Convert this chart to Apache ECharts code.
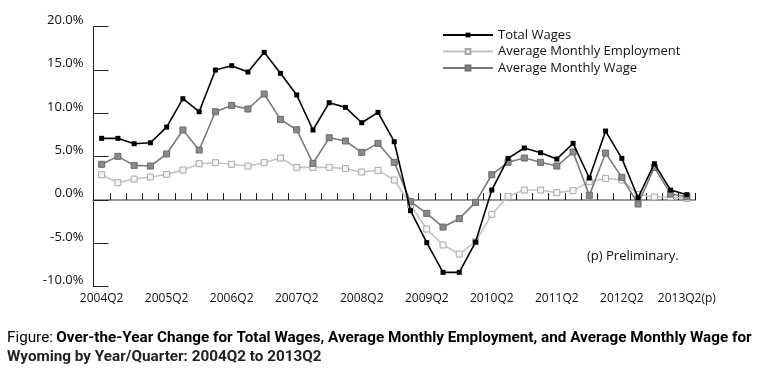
<!DOCTYPE html>
<html>
<head>
<meta charset="utf-8">
<script src="https://cdn.jsdelivr.net/npm/echarts@6/dist/echarts.min.js"></script>
<style>
html,body{margin:0;padding:0;background:#fff;}
#chart{width:771px;height:372px;}
</style>
</head>
<body>
<div id="chart"></div>
<script>
var quarters = ["2004Q2","2004Q3","2004Q4","2005Q1","2005Q2","2005Q3","2005Q4","2006Q1","2006Q2","2006Q3","2006Q4","2007Q1","2007Q2","2007Q3","2007Q4","2008Q1","2008Q2","2008Q3","2008Q4","2009Q1","2009Q2","2009Q3","2009Q4","2010Q1","2010Q2","2010Q3","2010Q4","2011Q1","2011Q2","2011Q3","2011Q4","2012Q1","2012Q2","2012Q3","2012Q4","2013Q1","2013Q2(p)"];
var totalWages = [7.12, 7.12, 6.50, 6.61, 8.42, 11.69, 10.19, 15.0, 15.5, 14.77, 17.04, 14.62, 12.12, 8.08, 11.23, 10.69, 8.92, 10.12, 6.73, -1.23, -4.92, -8.35, -8.35, -4.85, 1.15, 4.81, 6.0, 5.46, 4.73, 6.54, 2.54, 7.96, 4.81, 0.27, 4.19, 1.15, 0.62];
var avgEmployment = [2.92, 2.00, 2.42, 2.65, 2.96, 3.46, 4.19, 4.31, 4.12, 3.92, 4.31, 4.85, 3.77, 3.77, 3.77, 3.62, 3.23, 3.42, 2.31, -0.58, -3.35, -5.19, -6.23, -4.81, -1.65, 0.42, 1.15, 1.15, 0.85, 1.08, 2.12, 2.50, 2.31, 0.65, 0.35, 0.35, 0.19];
var avgWage = [4.12, 5.04, 4.00, 3.92, 5.31, 8.08, 5.77, 10.19, 10.92, 10.50, 12.23, 9.31, 8.11, 4.23, 7.19, 6.81, 5.50, 6.54, 4.35, -0.19, -1.54, -3.12, -2.15, -0.27, 2.92, 4.35, 4.85, 4.35, 3.92, 5.54, 0.54, 5.42, 2.62, -0.46, 3.77, 0.69, 0.38];
var seriesNames = ["Total Wages", "Average Monthly Employment", "Average Monthly Wage"];
var yTicks = [-10, -5, 0, 5, 10, 15, 20];
var captionLine1Label = "Figure:";
var captionLine1 = "Over-the-Year Change for Total Wages, Average Monthly Employment, and Average Monthly Wage for";
var captionLine2 = "Wyoming by Year/Quarter: 2004Q2 to 2013Q2";

var FONT = "'Open Sans', sans-serif";
var CAP_FONT_FAMILY = "Roboto, 'Open Sans', sans-serif";
var CAP_SIZE = 15;

// measure caption width to horizontally condense it like the original narrow font
var cv = document.createElement('canvas').getContext('2d');
cv.font = CAP_SIZE + "px " + CAP_FONT_FAMILY;
var wA = cv.measureText(captionLine1Label + ' ').width;
cv.font = "bold " + CAP_SIZE + "px " + CAP_FONT_FAMILY;
var wB = cv.measureText(captionLine1).width;
var capScale = 745 / (wA + wB);

var chart = echarts.init(document.getElementById('chart'), null, {renderer: 'canvas'});
var option = {
  animation: false,
  backgroundColor: '#fff',
  textStyle: {fontFamily: FONT},
  grid: {left: 93.5, right: 76, top: 26.7, bottom: 85.3, containLabel: false, outerBoundsMode: 'none'},
  legend: {
    left: 437, top: 23, orient: 'vertical',
    itemWidth: 50, itemHeight: 6, itemGap: 2.5,
    textStyle: {fontFamily: FONT, fontSize: 13, color: '#111', lineHeight: 14},
    data: seriesNames
  },
  xAxis: {
    type: 'category',
    data: quarters,
    boundaryGap: true,
    axisLine: {onZero: true, lineStyle: {color: '#9a9a9a', width: 2}},
    axisTick: {show: true, inside: true, length: 7, interval: 0, lineStyle: {color: '#111', width: 1}},
    axisLabel: {interval: 3, margin: 6, fontSize: 12, color: '#111', fontFamily: FONT},
    splitLine: {show: false}
  },
  yAxis: {
    type: 'value',
    min: yTicks[0], max: yTicks[yTicks.length - 1], interval: 5,
    axisLine: {show: true, lineStyle: {color: '#222', width: 1}},
    axisTick: {show: true, inside: true, length: 15, lineStyle: {color: '#222', width: 1}},
    axisLabel: {fontSize: 13, color: '#111', margin: 10, verticalAlign: 'bottom', fontFamily: FONT,
      formatter: function (v) { return v.toFixed(1) + '%'; }},
    splitLine: {show: false}
  },
  series: [
    {
      name: seriesNames[0], type: 'line', data: totalWages, z: 4,
      symbol: 'rect', symbolSize: 5, showAllSymbol: true,
      lineStyle: {color: '#000', width: 1.6},
      itemStyle: {color: '#000', borderColor: '#000', borderWidth: 0}
    },
    {
      name: seriesNames[1], type: 'line', data: avgEmployment, z: 2,
      symbol: 'rect', symbolSize: 6, showAllSymbol: true,
      lineStyle: {color: '#c4c4c4', width: 1.6},
      itemStyle: {color: '#f4f4f4', borderColor: '#a8a8a8', borderWidth: 1}
    },
    {
      name: seriesNames[2], type: 'line', data: avgWage, z: 3,
      symbol: 'rect', symbolSize: 6, showAllSymbol: true,
      lineStyle: {color: '#7a7a7a', width: 1.6},
      itemStyle: {color: '#8a8a8a', borderColor: '#6a6a6a', borderWidth: 1}
    }
  ],
  graphic: [
    {type: 'text', left: 587, top: 250,
      style: {text: '(p) Preliminary.', font: "13px 'Open Sans', sans-serif", fill: '#111'}},
    {type: 'text', x: 7, y: 331, scaleX: capScale,
      style: {text: '{a|' + captionLine1Label + '} {b|' + captionLine1 + '}',
        rich: {
          a: {fontFamily: CAP_FONT_FAMILY, fontSize: CAP_SIZE, color: '#777'},
          b: {fontFamily: CAP_FONT_FAMILY, fontSize: CAP_SIZE, fontWeight: 'bold', color: '#222'}
        }}},
    {type: 'text', x: 7, y: 350, scaleX: capScale,
      style: {text: captionLine2,
        font: "bold " + CAP_SIZE + "px " + CAP_FONT_FAMILY, fill: '#222'}}
  ]
};
chart.setOption(option);
</script>
</body>
</html>
